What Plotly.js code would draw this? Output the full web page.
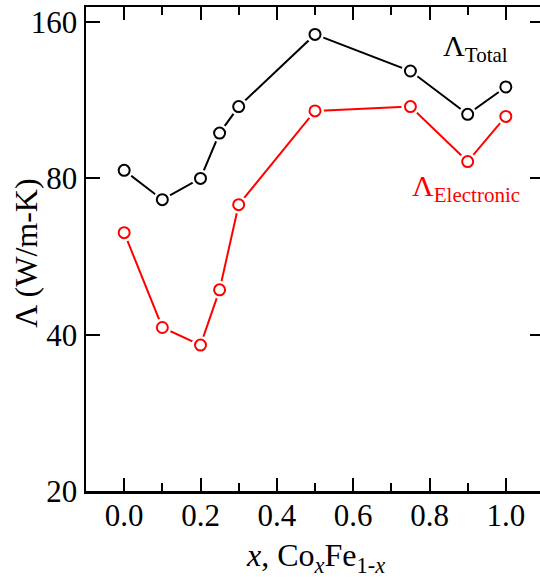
<!DOCTYPE html>
<html>
<head>
<meta charset="utf-8">
<script src="https://cdn.plot.ly/plotly-3.0.1.min.js"></script>
<style>
html, body { margin: 0; padding: 0; overflow: hidden; background: #fff; }
#chart { width: 545px; height: 577px; }
</style>
</head>
<body>
<div id="chart"></div>
<script>
// Composition x in CoxFe1-x
const xValues = [0.0, 0.1, 0.2, 0.25, 0.3, 0.5, 0.75, 0.9, 1.0];
// Total thermal conductivity (W/m-K)
const totalValues = [82.9, 72.8, 80.0, 97.8, 110.0, 151.5, 128.8, 106.3, 120.0];
// Electronic thermal conductivity (W/m-K)
const electronicValues = [62.9, 41.3, 38.2, 48.8, 71.2, 107.9, 110.0, 86.2, 105.3];
const xTickVals = [0.0, 0.2, 0.4, 0.6, 0.8, 1.0];
const xTickText = ['0.0', '0.2', '0.4', '0.6', '0.8', '1.0'];
const yTickVals = [20, 40, 80, 160];
const yTickText = ['20', '40', '80', '160'];

const font = "'Liberation Serif', 'Times New Roman', serif";

function series(yv, color) {
  return [
    { x: xValues, y: yv, type: 'scatter', mode: 'lines',
      line: { color: color, width: 2 }, showlegend: false, hoverinfo: 'skip' },
    { x: xValues, y: yv, type: 'scatter', mode: 'markers',
      marker: { symbol: 'circle', size: 18, color: '#ffffff', line: { width: 0 } },
      showlegend: false, hoverinfo: 'skip' },
    { x: xValues, y: yv, type: 'scatter', mode: 'markers',
      marker: { symbol: 'circle', size: 11, color: 'rgba(255,255,255,0)', line: { color: color, width: 2 } },
      showlegend: false, hoverinfo: 'skip' }
  ];
}

const traces = [].concat(series(totalValues, '#000000'), series(electronicValues, '#ff0000'));

const layout = {
  width: 545, height: 577,
  margin: { l: 86, r: 1, t: 7, b: 86 },
  paper_bgcolor: '#ffffff', plot_bgcolor: '#ffffff',
  font: { family: font, size: 31, color: '#000000' },
  xaxis: {
    range: [-0.1, 1.1],
    tickvals: xTickVals, ticktext: xTickText,
    ticks: 'inside', ticklen: 13, tickwidth: 2, tickcolor: '#000',
    ticklabelstandoff: -5,
    minor: { dtick: 0.1, tick0: 0, ticks: 'inside', ticklen: 8, tickwidth: 2, tickcolor: '#000', showgrid: false },
    showline: true, linecolor: '#000', linewidth: 2.5, mirror: 'ticks',
    showgrid: false, zeroline: false,
    tickfont: { family: font, size: 31, color: '#000' }
  },
  yaxis: {
    type: 'log',
    range: [Math.log10(20), 2.2332],
    tickvals: yTickVals, ticktext: yTickText,
    ticks: 'inside', ticklen: 14, tickwidth: 2, tickcolor: '#000',
    showline: true, linecolor: '#000', linewidth: 2.5, mirror: 'ticks',
    showgrid: false, zeroline: false,
    tickfont: { family: font, size: 31, color: '#000' }
  },
  annotations: [
    {
      text: 'Λ (W/m-K)', textangle: -90, xref: 'paper', yref: 'paper',
      x: -0.131, y: 0.49, xanchor: 'center', yanchor: 'middle', showarrow: false,
      font: { family: font, size: 32, color: '#000000' }
    },
    {
      text: '<i>x</i>, Co<sub><i>x</i></sub>Fe<sub>1-<i>x</i></sub>', xref: 'paper', yref: 'paper',
      x: 0.5, y: -0.138, xanchor: 'center', yanchor: 'middle', showarrow: false,
      font: { family: font, size: 32, color: '#000000' }
    },
    {
      text: 'Λ<sub>Total</sub>', xref: 'paper', yref: 'paper',
      x: 0.776, y: 0.915, xanchor: 'left', yanchor: 'middle', showarrow: false,
      font: { family: font, size: 30, color: '#000000' }
    },
    {
      text: 'Λ<sub>Electronic</sub>', xref: 'paper', yref: 'paper',
      x: 0.708, y: 0.626, xanchor: 'left', yanchor: 'middle', showarrow: false,
      font: { family: font, size: 30, color: '#ff0000' }
    }
  ]
};

Plotly.newPlot('chart', traces, layout, { displayModeBar: false, staticPlot: true });
</script>
</body>
</html>
